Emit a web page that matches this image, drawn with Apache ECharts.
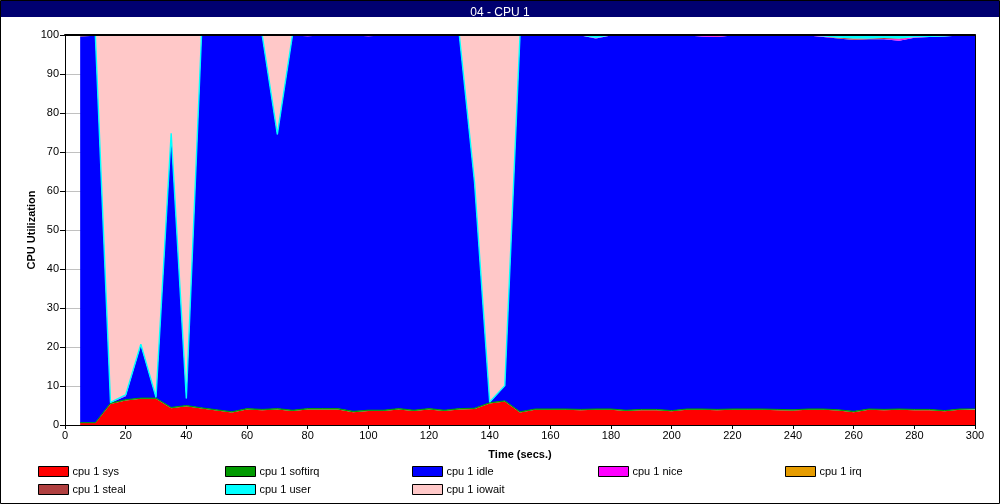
<!DOCTYPE html>
<html>
<head>
<meta charset="utf-8">
<script src="https://cdn.jsdelivr.net/npm/echarts@6/dist/echarts.min.js"></script>
<style>
html,body{margin:0;padding:0;background:#fff;}
#chart{width:1000px;height:504px;}
</style>
</head>
<body>
<div id="chart"></div>
<script>
// Time stamps (secs.)
var times = [5,10,15,20,25,30,35,40,45,50,55,60,65,70,75,80,85,90,95,100,105,110,115,120,125,130,135,140,145,150,155,160,165,170,175,180,185,190,195,200,205,210,215,220,225,230,235,240,245,250,255,260,265,270,275,280,285,290,295,300];
var xTicks = [0,20,40,60,80,100,120,140,160,180,200,220,240,260,280,300];
var yTicks = [0,10,20,30,40,50,60,70,80,90,100];

var sysVals = [0.5,0.5,5.4,6.3,6.7,6.7,4.3,4.8,4.2,3.7, 3.2,4.0,3.8,4.0,3.6,4.0,4.0,4.0,3.3,3.6, 3.6,4.0,3.6,4.0,3.6,4.0,4.1,5.5,6.0,3.2, 3.9,3.9,3.9,3.8,3.9,3.9,3.6,3.8,3.8,3.5, 3.9,3.9,3.8,3.9,3.9,3.9,3.8,3.7,3.9,3.9, 3.7,3.3,3.9,3.8,3.9,3.8,3.8,3.5,3.9,3.9];
var softirqVals = [0.1,0.1,0.2,0.2,0.2,0.2,0.2,0.2,0.2,0.2, 0.2,0.2,0.2,0.2,0.2,0.2,0.2,0.2,0.2,0.2, 0.2,0.2,0.2,0.2,0.2,0.2,0.2,0.2,0.2,0.2, 0.2,0.2,0.2,0.2,0.2,0.2,0.2,0.2,0.2,0.2, 0.2,0.2,0.2,0.2,0.2,0.2,0.2,0.2,0.2,0.2, 0.2,0.2,0.2,0.2,0.2,0.2,0.2,0.2,0.2,0.2];
var idleVals = [99.0,99.2,0.1,0.9,13.6,0.1,70.1,1.6,95.5,96.0, 96.5,95.7,95.9,70.2,96.1,95.5,95.7,95.7,96.4,95.9, 96.1,95.7,96.1,95.7,96.1,95.7,57.9,0.1,3.8,96.5, 95.8,95.8,95.8,95.9,95.0,95.8,96.1,95.9,95.9,96.2, 95.8,95.5,95.5,95.8,95.8,95.8,95.9,96.0,95.8,95.4, 95.2,95.2,94.8,94.9,94.4,95.3,95.5,95.9,95.8,95.8];
var niceVals = [0,0,0,0.2,0,0,0,0.1,0,0, 0,0,0,0,0,0.2,0,0,0,0.2, 0,0,0,0,0,0,0,0,0,0, 0,0,0,0,0.1,0,0,0,0,0, 0,0.2,0.2,0,0,0,0,0,0,0.1, 0,0.1,0,0.1,0.4,0.1,0,0,0,0];
var irqVals = [0,0,0,0,0,0,0,0,0,0, 0,0,0,0,0,0,0,0,0,0, 0,0,0,0,0,0,0,0,0,0, 0,0,0,0,0,0,0,0,0,0, 0,0,0,0,0,0,0,0,0,0, 0,0,0,0,0,0,0,0,0,0];
var stealVals = [0.3,0.1,0,0,0,0,0,0,0,0, 0,0,0,0,0,0,0,0,0,0, 0,0,0,0,0,0,0,0,0,0, 0,0,0,0,0,0,0,0,0,0, 0,0.1,0.2,0,0,0,0,0,0,0, 0.2,0.3,0.2,0.2,0.2,0,0,0,0,0];
var userVals = [0.1,0.1,0.1,0.1,0.2,0.1,0.2,0.1,0.1,0.1, 0.1,0.1,0.1,0.1,0.1,0.1,0.1,0.1,0.1,0.1, 0.1,0.1,0.1,0.1,0.1,0.1,0.1,0.1,0.1,0.1, 0.1,0.1,0.1,0.1,0.8,0.1,0.1,0.1,0.1,0.1, 0.1,0.1,0.1,0.1,0.1,0.1,0.1,0.1,0.1,0.4, 0.7,0.9,0.9,0.8,0.9,0.6,0.5,0.4,0.1,0.1];
var iowaitVals = [0,0,94.2,92.3,79.3,92.9,25.2,93.2,0,0, 0,0,0,25.5,0,0,0,0,0,0, 0,0,0,0,0,0,37.7,94.1,89.9,0, 0,0,0,0,0,0,0,0,0,0, 0,0,0,0,0,0,0,0,0,0, 0,0,0,0,0,0,0,0,0,0];

var seriesNames = ['cpu 1 sys','cpu 1 softirq','cpu 1 idle','cpu 1 nice','cpu 1 irq','cpu 1 steal','cpu 1 user','cpu 1 iowait'];
var seriesValues = [sysVals, softirqVals, idleVals, niceVals, irqVals, stealVals, userVals, iowaitVals];
var seriesColors = ['#ff0000','#009a00','#0000ff','#ff00ff','#e69c00','#b04040','#00ffff','#ffc8c8'];

var FONT = 'Liberation Sans, Arial, sans-serif';

// category axis: 0 plus every sample time
var cats = ['0'].concat(times.map(String));

var series = seriesNames.map(function(n, k){
  var lineW = 0;
  if (n === 'cpu 1 user') lineW = 1.4;
  if (n === 'cpu 1 softirq') lineW = 1;
  return {
    name: n, type: 'line', stack: 'cpu',
    data: ['-'].concat(seriesValues[k]),
    showSymbol: false, symbol: 'none', smooth: false, connectNulls: false,
    itemStyle: { color: seriesColors[k] },
    lineStyle: { width: lineW, color: seriesColors[k] },
    areaStyle: { color: seriesColors[k], opacity: 1 },
    z: (n === 'cpu 1 user' ? 3 : 2),
    animation: false
  };
});

var legendPos = [
  [38,466],[225,466],[412,466],[598,466],[785,466],
  [38,484],[225,484],[412,484]
];
var legends = seriesNames.map(function(n,k){
  return {
    data: [n], left: legendPos[k][0], top: legendPos[k][1],
    icon: 'rect', itemWidth: 30, itemHeight: 10, itemGap: 4,
    itemStyle: { borderColor: '#000', borderWidth: 1 },
    textStyle: { fontSize: 11, color: '#000', fontFamily: FONT, padding: [0,0,0,-1] },
    padding: 0, selectedMode: false
  };
});

function isTick(idx, val){ return xTicks.indexOf(Number(val)) >= 0; }

var chart = echarts.init(document.getElementById('chart'), null, {renderer: 'canvas'});
chart.setOption({
  animation: false,
  backgroundColor: '#ffffff',
  title: {
    text: '04 - CPU 1', left: 'center', top: 2,
    textStyle: { color: '#ffffff', fontSize: 12, fontWeight: 'normal', fontFamily: FONT }
  },
  graphic: [
    { type: 'rect', z: -1, shape: { x: 0.5, y: 0.5, width: 999, height: 503 }, style: { fill: '#ffffff', stroke: '#000', lineWidth: 1 } },
    { type: 'rect', z: -1, shape: { x: 1, y: 1, width: 998, height: 16 }, style: { fill: '#000070' } }
  ],
  legend: legends,
  grid: { left: 65, right: 25, top: 35, bottom: 79, containLabel: false },
  xAxis: [
    {
      type: 'category', data: cats, boundaryGap: false, position: 'bottom', z: 10,
      name: 'Time (secs.)', nameLocation: 'middle', nameGap: 24, nameMoveOverlap: false,
      nameTextStyle: { fontSize: 11, fontWeight: 'bold', color: '#000', fontFamily: FONT },
      axisLine: { show: true, onZero: false, lineStyle: { color: '#000', width: 1 } },
      axisTick: { show: true, length: 4, interval: isTick, lineStyle: { color: '#000' } },
      axisLabel: { fontSize: 11, color: '#000', margin: 5, fontFamily: FONT, interval: isTick },
      splitLine: { show: false }
    },
    {
      type: 'value', min: 0, max: 300, position: 'top', z: 10,
      axisLine: { show: true, onZero: false, lineStyle: { color: '#000', width: 2 } },
      axisTick: { show: false }, axisLabel: { show: false }, splitLine: { show: false }
    }
  ],
  yAxis: [
    {
      type: 'value', min: 0, max: 100, interval: 10, position: 'left',
      name: 'CPU Utilization', nameLocation: 'middle', nameGap: 28, nameRotate: 90, nameMoveOverlap: false,
      nameTextStyle: { fontSize: 11, fontWeight: 'bold', color: '#000', fontFamily: FONT },
      axisLine: { show: true, onZero: false, lineStyle: { color: '#000', width: 1 } },
      axisTick: { show: true, length: 5, lineStyle: { color: '#000' } },
      axisLabel: { fontSize: 11, color: '#000', margin: 6, fontFamily: FONT,
        formatter: function(v){ return yTicks.indexOf(v) >= 0 ? String(v) : ''; } },
      splitLine: { show: true, lineStyle: { color: '#c0c0c0', width: 1 } }
    },
    {
      type: 'value', min: 0, max: 100, position: 'right', z: 10,
      axisLine: { show: true, onZero: false, lineStyle: { color: '#000', width: 1 } },
      axisTick: { show: false }, axisLabel: { show: false }, splitLine: { show: false }
    }
  ],
  series: series
});
</script>
</body>
</html>
